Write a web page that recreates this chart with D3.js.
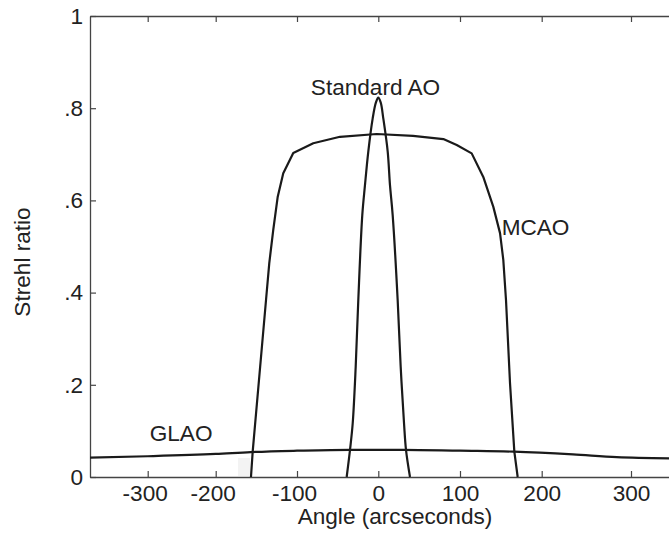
<!DOCTYPE html>
<html>
<head>
<meta charset="utf-8">
<script src="https://cdn.jsdelivr.net/npm/d3@7"></script>
<style>
  html, body { margin: 0; padding: 0; background: #fff; }
  svg { display: block; }
  text { font-family: "Liberation Sans", Arial, sans-serif; fill: #222; }
</style>
</head>
<body>
<svg id="chart" width="669" height="533"></svg>
<script>
// ---- data ----
const xTicks = [-300, -200, -100, 0, 100, 200, 300];
const xTickLabels = ["-300", "-200", "-100", "0", "100", "200", "300"];
const yTicks = [0, 0.2, 0.4, 0.6, 0.8, 1];
const yTickLabels = ["0", ".2", ".4", ".6", ".8", "1"];

const glaoX = [-385, -300, -200, -157, -100, -35, 0, 30, 100, 166, 235, 284, 343];
const glaoY = [0.042, 0.045, 0.050, 0.054, 0.057, 0.059, 0.059, 0.059, 0.057, 0.055, 0.049, 0.043, 0.0405];

const mcaoX = [-156.6, -154.5, -138.1, -134.1, -129.2, -123.7, -116.9, -104.6, -80, -47.1, -2, 42.5, 79.6, 96, 114.3, 128.5, 140.8, 149, 153, 156.3, 161.2, 166.5, 170.6];
const mcaoY = [0, 0.055, 0.384, 0.464, 0.536, 0.608, 0.659, 0.703, 0.724, 0.738, 0.744, 0.740, 0.733, 0.720, 0.702, 0.651, 0.586, 0.529, 0.471, 0.384, 0.204, 0.055, 0];

const aoX = [-38.9, -34.8, -31.5, -27.8, -24.6, -19.7, -16.4, -12.3, -6.9, -3, 0, 3, 6.1, 11.5, 14.3, 17.6, 23.7, 27.4, 31.5, 33.9, 38.8];
const aoY = [0, 0.059, 0.116, 0.239, 0.384, 0.568, 0.633, 0.706, 0.778, 0.812, 0.823, 0.812, 0.778, 0.706, 0.633, 0.568, 0.384, 0.239, 0.116, 0.059, 0];

const labels = [
  { text: "Standard AO", x: -83, y: 0.828 },
  { text: "MCAO", x: 151, y: 0.525 },
  { text: "GLAO", x: -297, y: 0.078 }
];

// ---- layout ----
const svg = d3.select("#chart");
const mLeft = 90, mRight = 669, mTop = 16, mBottom = 477;
const fs = 22.6;

// the reference's tick marks are not evenly spaced; follow them piecewise
const x = d3.scaleLinear()
  .domain([-385, -300, -200, -100, 0, 100, 200, 300, 343])
  .range([mLeft, 147.7, 215.7, 297, 378.3, 460, 541.7, 631, mRight]);
const y = d3.scaleLinear().domain([0, 1]).range([mBottom, mTop]);

// faint scan artefact
svg.append("rect")
  .attr("x", 238).attr("y", 458).attr("width", 12).attr("height", 18)
  .attr("fill", "#f3f3f3");

const axisColor = "#444";

// bottom axis
const gx = svg.append("g").attr("transform", `translate(0,${mBottom})`)
  .call(d3.axisBottom(x).tickValues(xTicks)
    .tickFormat((d, i) => xTickLabels[i])
    .tickSizeInner(-6).tickSizeOuter(0).tickPadding(8));
// top axis (ticks only)
const gt = svg.append("g").attr("transform", `translate(0,${mTop})`)
  .call(d3.axisTop(x).tickValues(xTicks).tickFormat("")
    .tickSizeInner(-6).tickSizeOuter(0));
// left axis
const gy = svg.append("g").attr("transform", `translate(${mLeft},0)`)
  .call(d3.axisLeft(y).tickValues(yTicks)
    .tickFormat((d, i) => yTickLabels[i])
    .tickSizeInner(-6).tickSizeOuter(0).tickPadding(7));

[gx, gt, gy].forEach(g => {
  g.selectAll("path.domain").attr("stroke", axisColor).attr("stroke-width", 1.3);
  g.selectAll(".tick line").attr("stroke", axisColor).attr("stroke-width", 1.2);
  g.selectAll(".tick text").attr("font-size", fs)
    .attr("font-family", "'Liberation Sans', Arial, sans-serif").attr("fill", "#222");
});
gx.selectAll(".tick text").attr("dx", (d) => d < 0 ? -3 : 0);

// axis titles
svg.append("text")
  .attr("x", 395).attr("y", 524)
  .attr("text-anchor", "middle").attr("font-size", fs)
  .text("Angle (arcseconds)");
svg.append("text")
  .attr("transform", `translate(30,262) rotate(-90)`)
  .attr("text-anchor", "middle").attr("font-size", fs)
  .text("Strehl ratio");

// curves
const line = d3.line().x(d => x(d[0])).y(d => y(d[1]));
const series = [
  { xs: glaoX, ys: glaoY, curve: d3.curveMonotoneX },
  { xs: mcaoX, ys: mcaoY, curve: d3.curveLinear },
  { xs: aoX, ys: aoY, curve: d3.curveCatmullRom }
];
series.forEach(s => {
  svg.append("path")
    .datum(s.xs.map((v, i) => [v, s.ys[i]]))
    .attr("fill", "none").attr("stroke", "#1a1a1a")
    .attr("stroke-width", 2.2).attr("stroke-linejoin", "round")
    .attr("d", line.curve(s.curve));
});

// curve labels
svg.selectAll("text.lbl").data(labels).enter().append("text")
  .attr("class", "lbl")
  .attr("x", d => x(d.x)).attr("y", d => y(d.y))
  .attr("font-size", fs)
  .text(d => d.text);
</script>
</body>
</html>
